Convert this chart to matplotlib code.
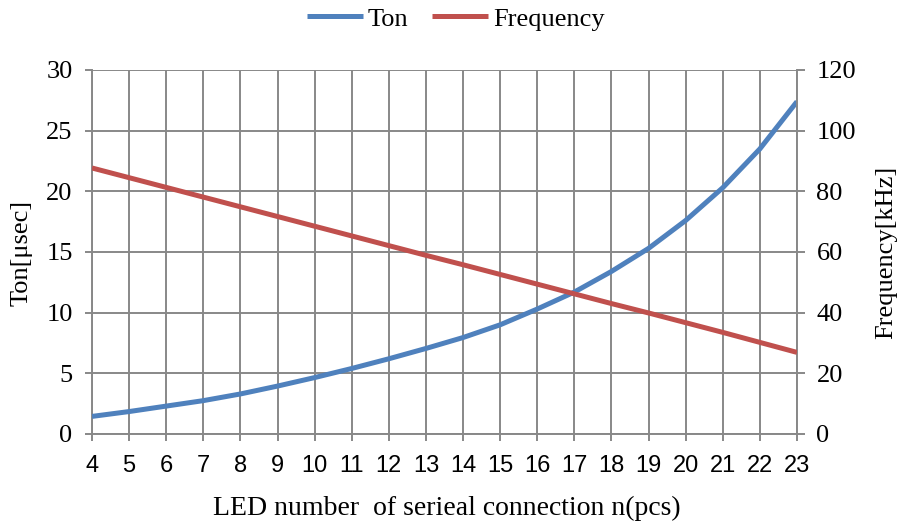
import matplotlib
matplotlib.use("Agg")
import matplotlib.pyplot as plt

n_leds = list(range(4, 24))
ton_us = [1.45, 1.85, 2.3, 2.75, 3.3, 3.95, 4.65, 5.4, 6.2, 7.05,
          7.95, 9.0, 10.3, 11.7, 13.4, 15.3, 17.6, 20.3, 23.5, 27.4]
freq_khz = [87.7, 84.5, 81.3, 78.1, 74.9, 71.7, 68.5, 65.3, 62.1, 58.9,
            55.8, 52.6, 49.4, 46.2, 43.0, 39.9, 36.7, 33.5, 30.2, 26.9]
ton_ticks = [0, 5, 10, 15, 20, 25, 30]
freq_ticks = [0, 20, 40, 60, 80, 100, 120]

serif = "Liberation Serif"
sans = "Liberation Sans"
grid_c = "#888888"
blue = "#4F81BD"
red = "#C0504D"

W, H = 901, 526
fig = plt.figure(figsize=(W / 100, H / 100), dpi=100)
x0, x1, y0, y1 = 92, 797, 70, 434
ax = fig.add_axes([x0 / W, 1 - y1 / H, (x1 - x0) / W, (y1 - y0) / H])
ax2 = ax.twinx()

l1, = ax.plot(n_leds, ton_us, color=blue, lw=3.6, label="Ton",
              solid_capstyle="butt", solid_joinstyle="round", zorder=3)
l2, = ax2.plot(n_leds, freq_khz, color=red, lw=3.6, label="Frequency",
               solid_capstyle="butt", solid_joinstyle="round", zorder=3)

ax.set_xlim(4, 23)
ax.set_ylim(0, 30)
ax2.set_ylim(0, 120)
ax.set_xticks(n_leds)
ax.set_yticks(ton_ticks)
ax2.set_yticks(freq_ticks)

ax.grid(True, color=grid_c, lw=1.4)
ax.set_axisbelow(True)

for a in (ax, ax2):
    for s in a.spines.values():
        s.set_visible(False)
for a, side in ((ax, "left"), (ax, "bottom"), (ax2, "right")):
    a.spines[side].set_visible(True)
    a.spines[side].set_color(grid_c)
    a.spines[side].set_linewidth(1.4)

ax.tick_params(axis="x", direction="out", length=5, width=1.4, color=grid_c, pad=10)
ax.tick_params(axis="y", direction="out", length=5, width=1.4, color=grid_c, pad=9)
ax2.tick_params(axis="y", direction="out", length=6, width=1.4, color=grid_c, pad=8)

for t in ax.get_xticklabels():
    t.set_fontfamily(sans)
    t.set_fontsize(17)
for t in ax.get_yticklabels() + ax2.get_yticklabels():
    t.set_fontfamily(serif)
    t.set_fontsize(19)

fig.text(446.5 / W, 1 - 508 / H, "LED number  of serieal connection n(pcs)",
         fontfamily=serif, fontsize=20, ha="center", va="center")
fig.text(22 / W, 1 - 253 / H, "Ton[μsec]", fontfamily=serif, fontsize=19,
         rotation=90, ha="center", va="center")
fig.text(886 / W, 1 - 252 / H, "Frequency[kHz]", fontfamily=serif, fontsize=19,
         rotation=90, ha="center", va="center")

fig.legend(handles=[l1, l2], loc="center", bbox_to_anchor=(456 / W, 1 - 19 / H), ncol=2,
           frameon=False, prop={"family": serif, "size": 19},
           handlelength=2.1, handletextpad=0.2, columnspacing=0.9,
           borderpad=0, borderaxespad=0)

fig.savefig("out.png", dpi=100)
